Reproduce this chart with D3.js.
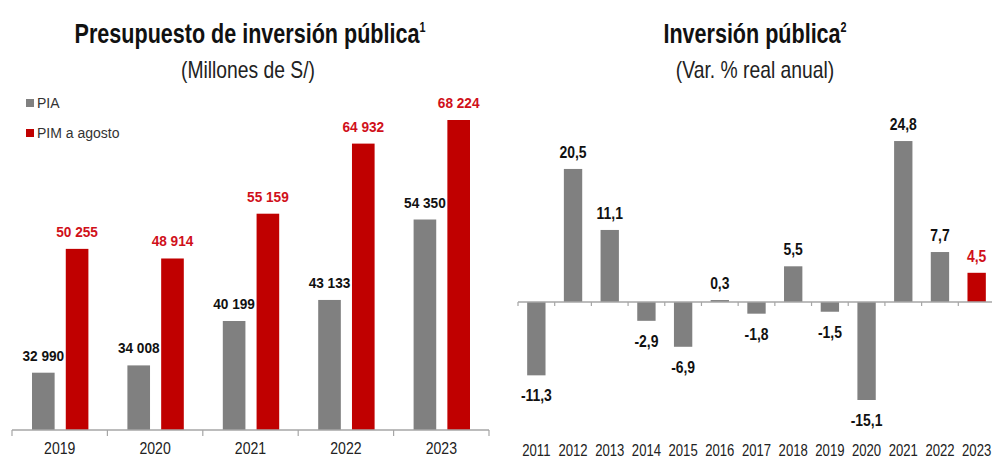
<!DOCTYPE html>
<html>
<head>
<meta charset="utf-8">
<title>Inversión pública</title>
<script src="https://d3js.org/d3.v7.min.js"></script>
<style>
  body { margin: 0; background: white; }
  svg { display: block; font-family: "Liberation Sans", Arial, sans-serif; }
</style>
</head>
<body>
<script>
// --- data ---
let budgetYears = ["2019", "2020", "2021", "2022", "2023"]
let piaValues = [32990, 34008, 40199, 43133, 54350]
let pimValues = [50255, 48914, 55159, 64932, 68224]
let budgetSeries = ["PIA", "PIM a agosto"]

let growthYears = ["2011", "2012", "2013", "2014", "2015", "2016", "2017", "2018", "2019", "2020", "2021", "2022", "2023"]
let growthValues = [-11.3, 20.5, 11.1, -2.9, -6.9, 0.3, -1.8, 5.5, -1.5, -15.1, 24.8, 7.7, 4.5]

let width = 992
let height = 458
let grey = "#808080"
let red = "#c00000"
let labelRed = "#d0101a"
let axisColor = "#a6a6a6"

let locale = d3.formatLocale({decimal: ",", thousands: " ", grouping: [3], currency: ["", ""], minus: "-"})
let fmtInt = locale.format(",d")
let fmtDec = locale.format(".1f")

let svg = d3.select("body").append("svg")
    .attr("width", width)
    .attr("height", height)

// squeezed text, stands in for the narrow font of the original
let narrow = (x, y, s) => `translate(${x},${y}) scale(${s},1)`

let addTitle = (cx, main, sup) => {
    let t = svg.append("text")
        .attr("transform", narrow(cx, 43, 0.77))
        .attr("text-anchor", "middle")
        .attr("font-size", 28).attr("font-weight", "bold").attr("fill", "#111")
        .text(main)
    t.append("tspan").attr("font-size", 14).attr("dy", -11).text(sup)
}
let addSubtitle = (cx, txt) => {
    svg.append("text")
        .attr("transform", narrow(cx, 78, 0.84))
        .attr("text-anchor", "middle")
        .attr("font-size", 23).attr("fill", "#222")
        .text(txt)
}

// ---------- left chart ----------
addTitle(250, "Presupuesto de inversión pública", "1")
addSubtitle(248, "(Millones de S/)")

let left = svg.append("g")

let x0 = d3.scaleBand().domain(budgetYears).range([12, 489])
let x1 = d3.scaleBand().domain(budgetSeries).range([20, x0.bandwidth() - 19]).paddingInner(0.33)
let y0 = d3.scaleLinear().domain([25000, 68224]).range([430, 120])

let budgetRows = budgetYears.map((yr, i) => ({year: yr, values: [piaValues[i], pimValues[i]]}))
let cells = d => d.values.map((v, k) => ({series: budgetSeries[k], value: v}))

let groups = left.selectAll(".grp").data(budgetRows).enter().append("g")
    .attr("transform", d => `translate(${x0(d.year)},0)`)

groups.selectAll("rect").data(cells)
    .enter().append("rect")
    .attr("x", d => x1(d.series))
    .attr("width", x1.bandwidth())
    .attr("y", d => y0(d.value))
    .attr("height", d => y0.range()[0] - y0(d.value))
    .attr("fill", d => d.series === "PIA" ? grey : red)

groups.selectAll(".lbl").data(cells)
    .enter().append("text")
    .attr("transform", d => narrow(x1(d.series) + x1.bandwidth() / 2, y0(d.value) - 12, 0.88))
    .attr("text-anchor", "middle")
    .attr("font-size", 15.5).attr("font-weight", "bold")
    .attr("fill", d => d.series === "PIA" ? "#111" : labelRed)
    .text(d => fmtInt(d.value))

// axis
let axisL = left.append("g").attr("transform", "translate(0,430)")
axisL.append("line").attr("x1", 12).attr("x2", 489).attr("stroke", axisColor).attr("stroke-width", 1.5)
let boundsL = budgetYears.map(d => x0(d)).concat([x0.range()[1]])
axisL.selectAll(".tk").data(boundsL).enter().append("line")
    .attr("x1", d => d).attr("x2", d => d).attr("y1", 0).attr("y2", 6)
    .attr("stroke", axisColor).attr("stroke-width", 1.2)
axisL.selectAll(".yr").data(budgetYears).enter().append("text")
    .attr("transform", d => narrow(x0(d) + x0.bandwidth() / 2, 24, 0.88))
    .attr("text-anchor", "middle").attr("font-size", 16).attr("fill", "#222")
    .text(d => d)

// legend
let legend = left.append("g").attr("transform", "translate(26,98)")
budgetSeries.forEach((s, i) => {
    legend.append("rect").attr("x", 0).attr("y", i * 30 + 1).attr("width", 8).attr("height", 8)
        .attr("fill", i === 0 ? grey : red)
    legend.append("text").attr("x", 11).attr("y", i * 30 + 10)
        .attr("font-size", 14).attr("fill", "#333").text(s)
})

// ---------- right chart ----------
addTitle(755, "Inversión pública", "2")
addSubtitle(755, "(Var. % real anual)")

let right = svg.append("g")

let xr = d3.scaleBand().domain(growthYears).range([518, 995]).paddingInner(0.5).paddingOuter(0.25)
let yr = d3.scaleLinear().domain([-16, 26]).range([302 + 16 * 6.49, 302 - 26 * 6.49])
let zero = yr(0)
let last = growthValues.length - 1

right.selectAll(".bar").data(growthValues).enter().append("rect")
    .attr("x", (d, i) => xr(growthYears[i]))
    .attr("width", xr.bandwidth())
    .attr("y", d => d >= 0 ? yr(d) : zero)
    .attr("height", d => Math.max(1, Math.abs(yr(d) - zero)))
    .attr("fill", (d, i) => i === last ? red : grey)

right.selectAll(".vl").data(growthValues).enter().append("text")
    .attr("transform", (d, i) => narrow(xr(growthYears[i]) + xr.bandwidth() / 2, d >= 0 ? yr(d) - 11 : yr(d) + 26, 0.87))
    .attr("text-anchor", "middle")
    .attr("font-size", 16).attr("font-weight", "bold")
    .attr("fill", (d, i) => i === last ? labelRed : "#111")
    .text(d => fmtDec(d))

let axisR = right.append("g").attr("transform", `translate(0,${zero})`)
axisR.append("line").attr("x1", 518).attr("x2", 995).attr("stroke", axisColor).attr("stroke-width", 1.5)
let boundsR = growthYears.map(d => xr(d) - xr.step() * xr.paddingInner() / 2)
axisR.selectAll(".tk").data(boundsR).enter().append("line")
    .attr("x1", d => d).attr("x2", d => d).attr("y1", 0).attr("y2", 4)
    .attr("stroke", axisColor).attr("stroke-width", 1.2)

right.selectAll(".yr").data(growthYears).enter().append("text")
    .attr("transform", d => narrow(xr(d) + xr.bandwidth() / 2, 456, 0.82))
    .attr("text-anchor", "middle").attr("font-size", 16).attr("fill", "#222")
    .text(d => d)
</script>
</body>
</html>
